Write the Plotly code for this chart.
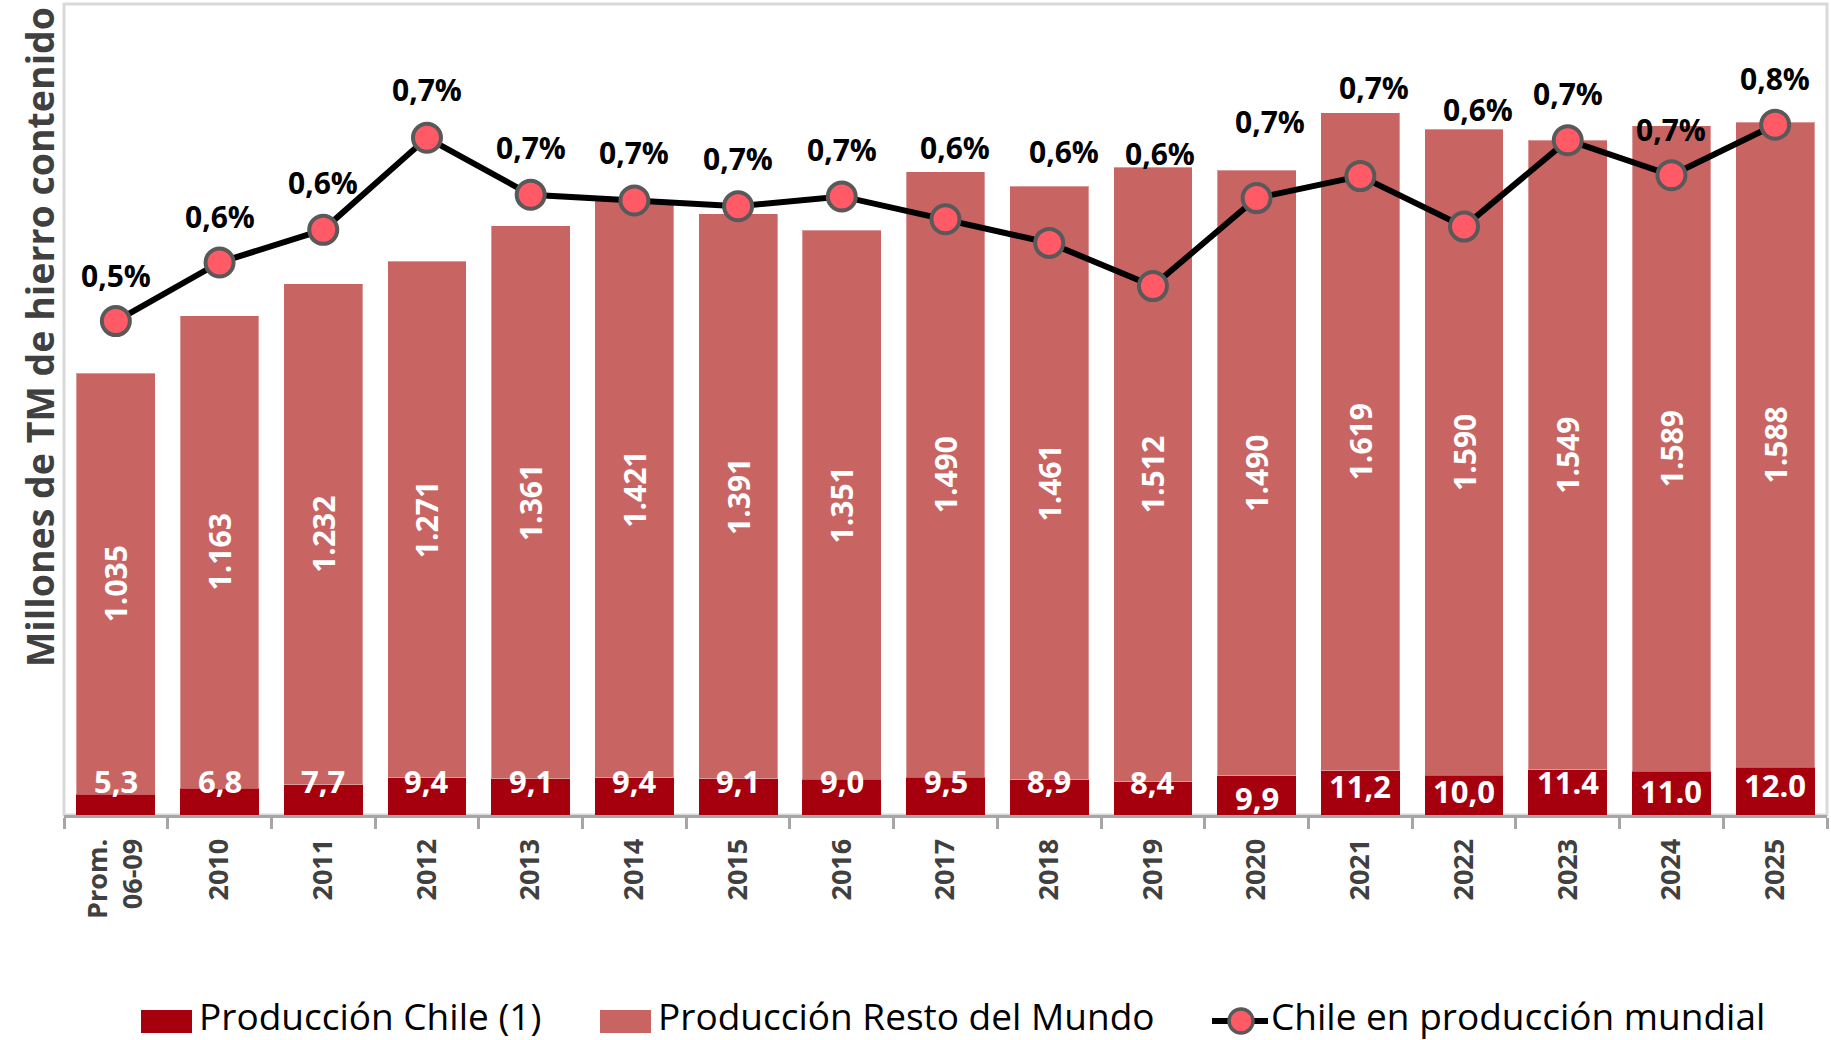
import plotly.graph_objects as go

# ---------------- data ----------------
categories = ["Prom.<br>06-09", "2010", "2011", "2012", "2013", "2014", "2015", "2016",
              "2017", "2018", "2019", "2020", "2021", "2022", "2023", "2024", "2025"]

chile_prod = [5.3, 6.8, 7.7, 9.4, 9.1, 9.4, 9.1, 9.0, 9.5, 8.9, 8.4, 9.9, 11.2, 10.0, 11.4, 11.0, 12.0]
chile_labels = ["5,3", "6,8", "7,7", "9,4", "9,1", "9,4", "9,1", "9,0", "9,5", "8,9", "8,4",
                "9,9", "11,2", "10,0", "11.4", "11.0", "12.0"]

rest_prod = [1035, 1163, 1232, 1271, 1361, 1421, 1391, 1351, 1490, 1461, 1512, 1490, 1619, 1590,
             1549, 1589, 1588]
rest_labels = ["1.035", "1.163", "1.232", "1.271", "1.361", "1.421", "1.391", "1.351", "1.490",
               "1.461", "1.512", "1.490", "1.619", "1.590", "1.549", "1.589", "1.588"]

chile_share = [0.509, 0.581, 0.621, 0.734, 0.664, 0.657, 0.650, 0.662, 0.634, 0.605, 0.552,
               0.660, 0.687, 0.625, 0.731, 0.688, 0.750]
share_labels = ["0,5%", "0,6%", "0,6%", "0,7%", "0,7%", "0,7%", "0,7%", "0,7%", "0,6%", "0,6%",
                "0,6%", "0,7%", "0,7%", "0,6%", "0,7%", "0,7%", "0,8%"]

# ---------------- styling ----------------
# In the original chart the Chile bars are drawn at an enlarged scale so they are visible
CHILE_BAR_SCALE = 9.75
share_label_yshift = [46, 46, 47, 48, 47, 48, 48, 47, 72, 91, 133, 77, 89, 117, 47, 46, 46]
share_label_xshift = [0, 0, 0, 0, 0, 0, 0, 0, 9, 15, 7, 13, 14, 14, 0, 0, 0]
chile_label_yshift = [13, 7, 4, -3, -2, -3, -2, -2, -4, -1, 0, -22, -15, -16, -12, -20, -18]

DARK = "#A6000F"
REST = "#C86563"
MARK = "#FF5A66"
MARK_EDGE = "#595959"
GRAY_TXT = "#404040"
FONT = "Open Sans"

W, H = 1831, 1040
ML, MR, MT, MB = 64, 4, 4, 225
PW = W - ML - MR
PH = H - MT - MB


def px_x(p):
    return (p - ML) / PW


def px_y(p):
    return (H - MB - p) / PH


chile_bar_h = [v * CHILE_BAR_SCALE for v in chile_prod]
idx = list(range(len(categories)))

fig = go.Figure()
fig.add_trace(go.Bar(
    x=categories, y=chile_bar_h, name="Producción Chile (1)",
    marker=dict(color=DARK, line=dict(width=0)), hoverinfo="skip", showlegend=False,
))
fig.add_trace(go.Bar(
    x=categories, y=rest_prod, name="Producción Resto del Mundo",
    marker=dict(color=REST, line=dict(width=1, color="rgba(255,255,255,0.35)")),
    text=rest_labels, textposition="inside", insidetextanchor="middle", textangle=-90,
    textfont=dict(family=FONT, size=30, color="white", weight="bold"),
    hoverinfo="skip", showlegend=False,
))
fig.add_trace(go.Scatter(
    x=categories, y=chile_share, yaxis="y2", mode="lines+markers",
    name="Chile en producción mundial",
    line=dict(color="black", width=6),
    marker=dict(size=28, color=MARK, line=dict(color=MARK_EDGE, width=4)),
    hoverinfo="skip", showlegend=False,
))

annotations = []
for i, v, t, s in zip(idx, chile_bar_h, chile_labels, chile_label_yshift):
    annotations.append(dict(x=i, y=v, xref="x", yref="y", text=t, showarrow=False,
                            yanchor="middle", yshift=s,
                            font=dict(family=FONT, size=31, color="white", weight="bold")))
for i, v, t, ys, xs in zip(idx, chile_share, share_labels, share_label_yshift, share_label_xshift):
    annotations.append(dict(x=i, y=v, xref="x", yref="y2", text=t, showarrow=False,
                            yanchor="middle", yshift=ys, xshift=xs,
                            font=dict(family=FONT, size=30, color="black", weight="bold")))

# y-axis title
annotations.append(dict(x=px_x(39), y=px_y(337), xref="paper", yref="paper",
                        text="Millones de TM de hierro contenido", textangle=-90,
                        showarrow=False, xanchor="center", yanchor="middle",
                        font=dict(family=FONT, size=37.5, color=GRAY_TXT, weight="bold")))

# custom legend
leg_y = 1015
legend_items = [
    (141, 192, 197, "Producción Chile (1)", DARK),
    (600, 651, 656, "Producción Resto del Mundo", REST),
]
shapes = [
    dict(type="rect", xref="paper", yref="paper", x0=0, x1=1, y0=0, y1=1,
         line=dict(color="#d9d9d9", width=3), layer="below"),
]
for x0, x1, tx, label, col in legend_items:
    shapes.append(dict(type="rect", xref="paper", yref="paper",
                       x0=px_x(x0), x1=px_x(x1), y0=px_y(1033), y1=px_y(1010),
                       fillcolor=col, line=dict(width=0)))
    annotations.append(dict(x=px_x(tx), y=px_y(leg_y), xref="paper", yref="paper", text=label,
                            showarrow=False, xanchor="left", yanchor="middle",
                            font=dict(family=FONT, size=37, color="black")))
shapes.append(dict(type="line", xref="paper", yref="paper", x0=px_x(1212), x1=px_x(1268),
                   y0=px_y(1021), y1=px_y(1021), line=dict(color="black", width=6)))
shapes.append(dict(type="circle", xref="paper", yref="paper",
                   x0=px_x(1241 - 12), x1=px_x(1241 + 12), y0=px_y(1021 + 12), y1=px_y(1021 - 12),
                   fillcolor=MARK, line=dict(color=MARK_EDGE, width=3.5)))
annotations.append(dict(x=px_x(1269), y=px_y(leg_y), xref="paper", yref="paper",
                        text="Chile en producción mundial", showarrow=False,
                        xanchor="left", yanchor="middle",
                        font=dict(family=FONT, size=37, color="black")))

fig.update_layout(
    width=W, height=H,
    margin=dict(l=ML, r=MR, t=MT, b=MB),
    paper_bgcolor="white", plot_bgcolor="white",
    barmode="stack", bargap=0.24,
    showlegend=False,
    xaxis=dict(
        type="category", range=[-0.5, len(categories) - 0.5], autorange=False,
        showline=True, linecolor="#a6a6a6", linewidth=3,
        ticks="outside", tickson="boundaries", ticklen=11, tickwidth=3, tickcolor="#a6a6a6",
        ticklabelstandoff=10,
        tickangle=-90, tickfont=dict(family=FONT, size=27, color=GRAY_TXT, weight="bold"),
        showgrid=False, zeroline=False,
    ),
    yaxis=dict(range=[0, PH / 0.4063], visible=False, showgrid=False, zeroline=False),
    yaxis2=dict(range=[-0.0972, 0.8982], overlaying="y", visible=False, showgrid=False,
                zeroline=False),
    annotations=annotations,
    shapes=shapes,
)

fig.write_html("out.html", config={"displayModeBar": False},
               post_script="document.body.style.margin='0';document.body.style.overflow='hidden';")
